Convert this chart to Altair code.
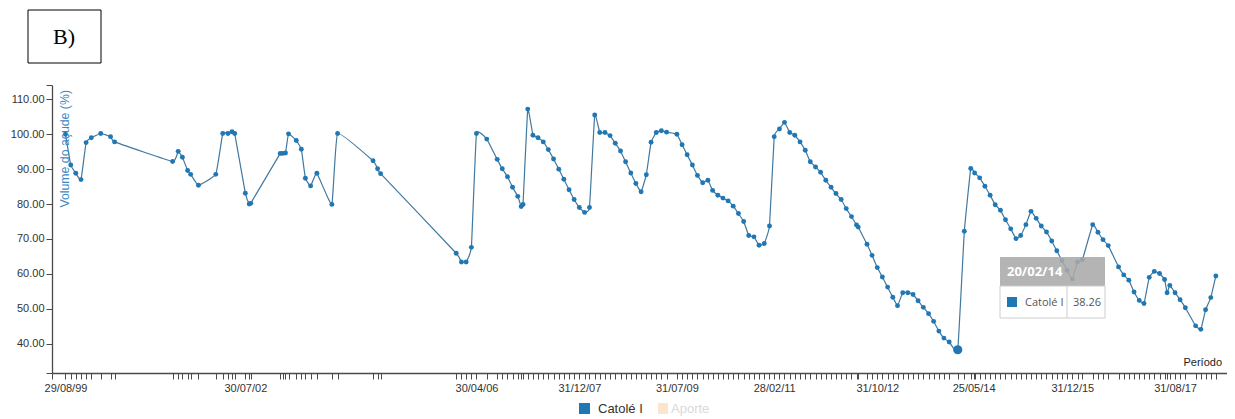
import json
import altair as alt
import pandas as pd

# ---------------- data ----------------
dates = [
    "1999-08-29", "1999-09-29", "1999-10-29", "1999-11-29", "1999-12-29", "2000-01-29",
    "2000-03-25", "2000-05-22", "2000-06-15",
    "2001-05-25", "2001-06-27", "2001-07-22", "2001-08-22", "2001-09-09", "2001-10-25",
    "2002-02-05", "2002-03-18", "2002-04-18", "2002-05-12", "2002-05-28", "2002-07-30",
    "2002-08-22", "2002-08-31",
    "2003-02-22", "2003-03-09", "2003-03-25", "2003-04-12", "2003-05-28", "2003-06-27",
    "2003-07-21", "2003-08-21", "2003-09-27", "2003-12-25", "2004-01-28",
    "2004-08-25", "2004-09-21", "2004-10-09",
    "2005-12-31", "2006-01-31", "2006-02-28", "2006-03-31", "2006-04-30", "2006-06-30",
    "2006-08-31", "2006-09-30", "2006-10-31", "2006-11-30", "2006-12-31",
    "2007-01-20", "2007-01-31", "2007-02-28", "2007-03-31", "2007-04-30", "2007-05-31",
    "2007-06-30", "2007-07-31", "2007-08-31", "2007-09-30", "2007-10-31", "2007-11-30",
    "2007-12-31",
    "2008-01-31", "2008-02-29", "2008-03-31", "2008-04-30", "2008-05-31", "2008-06-30",
    "2008-07-31", "2008-08-31", "2008-09-30", "2008-10-31", "2008-11-30", "2008-12-31",
    "2009-01-31", "2009-02-28", "2009-03-31", "2009-04-30", "2009-05-31", "2009-07-31",
    "2009-08-31", "2009-09-30", "2009-10-31", "2009-11-30", "2009-12-31",
    "2010-01-31", "2010-02-28", "2010-03-31", "2010-04-30", "2010-05-31", "2010-06-30",
    "2010-07-31", "2010-08-31", "2010-09-30", "2010-10-31", "2010-11-30", "2010-12-31",
    "2011-01-31", "2011-02-28", "2011-03-31", "2011-04-30", "2011-05-31", "2011-06-30",
    "2011-07-31", "2011-08-31", "2011-09-30", "2011-10-31", "2011-11-30", "2011-12-31",
    "2012-01-31", "2012-02-29", "2012-03-31", "2012-04-30", "2012-05-31", "2012-06-30",
    "2012-07-10", "2012-08-31", "2012-09-30", "2012-10-31", "2012-11-30", "2012-12-31",
    "2013-01-31", "2013-02-28", "2013-03-31", "2013-04-30", "2013-05-31", "2013-06-30",
    "2013-07-31", "2013-08-31", "2013-09-30", "2013-10-31", "2013-11-30", "2013-12-31",
    "2014-02-20", "2014-03-31", "2014-05-08", "2014-05-31", "2014-06-30", "2014-07-31",
    "2014-08-31", "2014-09-30", "2014-10-31", "2014-11-30", "2014-12-31",
    "2015-01-31", "2015-02-28", "2015-03-31", "2015-04-30", "2015-05-31", "2015-06-30",
    "2015-07-31", "2015-08-31", "2015-09-30", "2015-10-31", "2015-11-30", "2015-12-31",
    "2016-01-31", "2016-02-29", "2016-04-30", "2016-05-31", "2016-06-30", "2016-07-31",
    "2016-09-30", "2016-10-31", "2016-11-30", "2016-12-31",
    "2017-01-31", "2017-02-28", "2017-03-31", "2017-04-30", "2017-05-31", "2017-06-30",
    "2017-07-15", "2017-07-31", "2017-08-31", "2017-09-30", "2017-10-31", "2017-12-31",
    "2018-01-31", "2018-02-28", "2018-03-31", "2018-04-30",
]
volumes = [
    100.0, 91.2, 88.8, 87.0, 97.6, 99.0,
    100.2, 99.3, 97.8,
    92.2, 95.1, 93.4, 89.6, 88.5, 85.4,
    88.5, 100.2, 100.2, 100.7, 100.2, 83.1,
    80.0, 80.2,
    94.5, 94.5, 94.6, 100.1, 98.2, 95.7,
    87.4, 85.2, 88.8, 79.9, 100.2,
    92.4, 90.1, 88.7,
    65.9, 63.4, 63.4, 67.6, 100.2, 98.6,
    92.8, 90.1, 87.8, 84.8, 82.2,
    79.3, 79.9, 107.2, 99.7, 99.0, 97.8,
    95.6, 92.9, 90.0, 87.1, 84.1, 81.3,
    79.0,
    77.6, 79.0, 105.5, 100.5, 100.5, 99.6,
    97.4, 95.2, 92.1, 88.9, 85.9, 83.5,
    88.4, 97.7, 100.5, 101.0, 100.6, 100.0,
    97.0, 94.1, 91.2, 88.2, 86.1,
    86.8, 83.9, 82.5, 81.7, 80.9, 79.4,
    77.3, 75.0, 71.0, 70.6, 68.2, 68.7,
    73.7, 99.3, 101.5, 103.4, 100.5, 99.7,
    97.8, 95.4, 92.1, 90.6, 89.1, 86.8,
    84.8, 83.0, 81.3, 78.7, 76.4, 74.0,
    73.4, 68.5, 65.3, 61.8, 59.1, 56.2,
    53.3, 50.9, 54.6, 54.6, 54.1, 52.3,
    50.4, 48.6, 46.4, 43.6, 41.6, 40.5,
    38.26, 72.2, 90.2, 88.9, 87.5, 85.1,
    82.5, 79.8, 78.2, 75.5, 72.9,
    70.1, 71.0, 74.1, 77.9, 75.9, 73.7,
    72.0, 69.4, 66.6, 63.8, 61.0, 58.5,
    63.4, 64.1, 74.1, 71.9, 69.8, 68.1,
    62.0, 59.7, 58.2, 54.8,
    52.4, 51.5, 59.0, 60.7, 60.1, 58.4,
    54.6, 56.7, 54.6, 52.6, 50.3, 45.1,
    44.1, 49.7, 53.2, 59.4,
]
assert len(dates) == len(volumes)

label_dates = ["1999-08-29", "2002-07-30", "2006-04-30", "2007-12-31", "2009-07-31",
               "2011-02-28", "2012-10-31", "2014-05-25", "2015-12-31", "2017-08-31"]
y_ticks = [40, 50, 60, 70, 80, 90, 100, 110]
y_domain = [31.6, 114.1]
x_domain = ["1999-06-10", "2018-07-05"]

series_name = "Catolé I"
other_series = "Aporte"
panel_label = "B)"
y_title = "Volume do açude (%)"
x_title = "Período"
highlight_date = "2014-02-20"
highlight_value = 38.26

# ---------------- helpers ----------------
df = pd.DataFrame({"date": dates, "volume": volumes})


def ms(d):
    return int(pd.Timestamp(d, tz="UTC").value // 10**6)


tick_vals = sorted(set([ms(d) for d in dates] + [ms(d) for d in label_dates]
                       + [ms(d) for d in x_domain]))
label_strs = [pd.Timestamp(d).strftime("%d/%m/%y") for d in label_dates]
x_label_expr = (
    f"indexof({json.dumps(label_strs)}, utcFormat(datum.value, '%d/%m/%y')) >= 0"
    " ? utcFormat(datum.value, '%d/%m/%y') : ''"
)
y_vals = [y_domain[0]] + y_ticks + [y_domain[1]]
y_label_expr = (
    f"datum.value < {y_ticks[0] - 4} || datum.value > {y_ticks[-1] + 2}"
    " ? '' : format(datum.value, '.2f')"
)

AX = "#4a4a4a"
LBL = "#333333"
FONT = "Liberation Sans"
W, H = 1175, 288

x_enc = alt.X(
    "date:T",
    scale=alt.Scale(type="utc", domain=[ms(x_domain[0]), ms(x_domain[1])]),
    axis=alt.Axis(values=tick_vals, labelExpr=x_label_expr, labelOverlap=False,
                  labelFlush=False, labelAngle=0, tickSize=6, labelPadding=3,
                  title=None, grid=False, domainColor=AX, tickColor=AX,
                  domainWidth=1.3, tickWidth=1, labelColor=LBL, labelFontSize=11,
                  labelFont=FONT),
)
y_enc = alt.Y(
    "volume:Q",
    scale=alt.Scale(domain=y_domain, nice=False, zero=False),
    axis=alt.Axis(values=y_vals, labelExpr=y_label_expr, tickSize=6, labelPadding=2,
                  title=None, grid=False, domainColor=AX, tickColor=AX,
                  domainWidth=1.3, tickWidth=1, labelColor=LBL, labelFontSize=11,
                  labelFont=FONT),
)

base = alt.Chart(df).encode(x=x_enc, y=y_enc)

line = base.mark_line(interpolate="cardinal", tension=0.7, color="#41789f",
                      strokeWidth=1.2)
points = base.mark_circle(size=24, color="#1f77b4", opacity=1)
highlight = base.transform_filter(
    f"utcFormat(datum.date, '%Y-%m-%d') == '{highlight_date}'"
).mark_circle(size=85, color="#1f77b4", opacity=1)


def one(txt):
    return alt.Chart(pd.DataFrame({"t": [txt]}))


# panel label box
box = one(panel_label).mark_rect(fill="white", stroke="black", strokeWidth=1).encode(
    x=alt.value(-24), x2=alt.value(49), y=alt.value(-75), y2=alt.value(-22))
box_text = one(panel_label).mark_text(font="Liberation Serif", fontSize=22,
                                      color="black", baseline="middle").encode(
    text="t:N", x=alt.value(12), y=alt.value(-48))

# axis titles
ytitle = one(y_title).mark_text(angle=270, align="right", baseline="middle",
                                fontSize=12.3, font=FONT, color="#3d87c3").encode(
    text="t:N", x=alt.value(13), y=alt.value(5))
xtitle = one(x_title).mark_text(align="right", baseline="middle", fontSize=11,
                                font=FONT, color="#222222").encode(
    text="t:N", x=alt.value(1170), y=alt.value(H - 10))

# legend
leg_sq1 = one(series_name).mark_rect(fill="#1f77b4").encode(
    x=alt.value(527), x2=alt.value(538), y=alt.value(H + 30), y2=alt.value(H + 41))
leg_tx1 = one(series_name).mark_text(align="left", baseline="middle", fontSize=13,
                                     font=FONT, color="#333333").encode(
    text="t:N", x=alt.value(546), y=alt.value(H + 36))
leg_sq2 = one(other_series).mark_rect(fill="#fde4cf").encode(
    x=alt.value(606), x2=alt.value(616), y=alt.value(H + 30), y2=alt.value(H + 41))
leg_tx2 = one(other_series).mark_text(align="left", baseline="middle", fontSize=13,
                                      font=FONT, color="#d9d9d9").encode(
    text="t:N", x=alt.value(619), y=alt.value(H + 36))

# static tooltip
tip_date = pd.Timestamp(highlight_date).strftime("%d/%m/%y")
tip_head = one(tip_date).mark_rect(fill="#aaaaaa", opacity=0.88).encode(
    x=alt.value(948), x2=alt.value(1053), y=alt.value(172), y2=alt.value(201))
tip_body = one(tip_date).mark_rect(fill="white", stroke="#cccccc", strokeWidth=1,
                                   opacity=0.95).encode(
    x=alt.value(948), x2=alt.value(1053), y=alt.value(201), y2=alt.value(233))
tip_div = one(tip_date).mark_rule(color="#cccccc", strokeWidth=1).encode(
    x=alt.value(1015), y=alt.value(201), y2=alt.value(233))
tip_htxt = one(tip_date).mark_text(align="left", baseline="middle", fontSize=13,
                                   fontWeight="bold", font="Open Sans",
                                   color="white").encode(
    text="t:N", x=alt.value(955), y=alt.value(186.5))
tip_sq = one(series_name).mark_rect(fill="#1f77b4").encode(
    x=alt.value(955), x2=alt.value(965), y=alt.value(212), y2=alt.value(222))
tip_name = one(series_name).mark_text(align="left", baseline="middle", fontSize=11,
                                      font="Open Sans", color="#555555").encode(
    text="t:N", x=alt.value(973), y=alt.value(217.5))
tip_val = one(f"{highlight_value:.2f}").mark_text(align="left", baseline="middle",
                                                   fontSize=11, font="Open Sans",
                                                   color="#555555").encode(
    text="t:N", x=alt.value(1021), y=alt.value(217.5))

chart = alt.layer(
    line, points, highlight,
    box, box_text, ytitle, xtitle,
    leg_sq1, leg_tx1, leg_sq2, leg_tx2,
    tip_head, tip_body, tip_div, tip_htxt, tip_sq, tip_name, tip_val,
).properties(
    width=W, height=H,
    padding={"left": 44, "top": 77, "right": 0, "bottom": 44},
    autosize=alt.AutoSizeParams(type="none"),
    background="white",
).configure_view(stroke=None)

chart.save("out.html", embed_options={"renderer": "svg", "actions": False})
